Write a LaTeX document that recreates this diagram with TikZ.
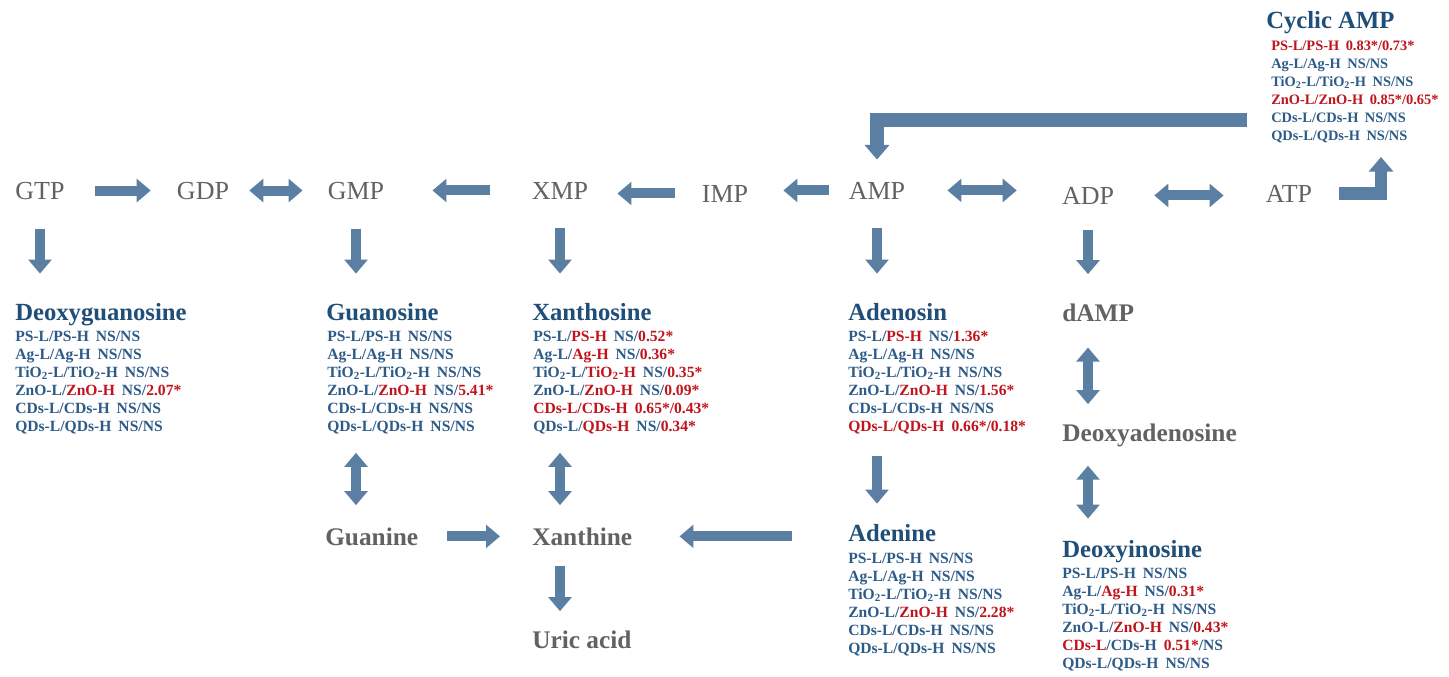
\documentclass[tikz,border=0pt]{standalone}
\usepackage{fontspec}
\setmainfont{Liberation Serif}
\usetikzlibrary{arrows.meta}
\definecolor{arrowc}{HTML}{5B7FA3}
\definecolor{lblgray}{HTML}{626262}
\definecolor{tblue}{HTML}{1F4E79}
\definecolor{dblue}{HTML}{2D5B88}
\definecolor{dred}{HTML}{C0141C}
\newcommand\hot[1]{\textcolor{dred}{#1}}
\newcommand\tio{TiO\textsubscript{2}}
\newcommand\gp{\hspace{0.45em}}
\tikzset{
  toplbl/.style={font=\fontsize{19.5}{22}\selectfont, text=lblgray, inner sep=0pt, anchor=base},
  graylbl/.style={font=\fontsize{19}{22}\selectfont\bfseries, text=lblgray, inner sep=0pt, anchor=base west},
  ttl/.style={font=\fontsize{18.5}{22}\selectfont\bfseries, text=tblue, inner sep=0pt, anchor=base west},
  dat/.style={font=\fontsize{11.7}{13.5}\selectfont\bfseries, text=dblue, inner sep=0pt, anchor=base west, align=left},
  smalldat/.style={dat, font=\fontsize{10.8}{13.5}\selectfont\bfseries},
  blk/.style={draw=arrowc, line width=7.5pt, -{Triangle[width=17pt,length=10.5pt]}},
  dblk/.style={draw=arrowc, line width=7.5pt, {Triangle[width=17pt,length=10.5pt]}-{Triangle[width=17pt,length=10.5pt]}},
  wblk/.style={draw=arrowc, line width=9.5pt, -{Triangle[width=18pt,length=11pt]}}
}
\begin{document}
\begin{tikzpicture}[x=0.75pt,y=-0.75pt]
\useasboundingbox (0,0) rectangle (1449,676);
\fill[white] (0,0) rectangle (1449,676);

% top row
\node[toplbl] (GTP) at (40,199) {GTP};
\node[toplbl] (GDP) at (203,199) {GDP};
\node[toplbl] (GMP) at (356,199) {GMP};
\node[toplbl] (XMP) at (560,199) {XMP};
\node[toplbl] (IMP) at (725,202) {IMP};
\node[toplbl] (AMP) at (877,199) {AMP};
\node[toplbl] (ADP) at (1088,204) {ADP};
\node[toplbl] (ATP) at (1289,202) {ATP};

% Cyclic AMP (data nodes: base = baseline of the last line)
\node[ttl] (cAMPt) at (1266,28) {Cyclic AMP};
\node[smalldat] (cAMPd) at (1271,140) {\hot{PS-L/PS-H\gp 0.83*/0.73*}\\
Ag-L/Ag-H\gp NS/NS\\
\tio-L/\tio-H\gp NS/NS\\
\hot{ZnO-L/ZnO-H\gp 0.85*/0.65*}\\
CDs-L/CDs-H\gp NS/NS\\
QDs-L/QDs-H\gp NS/NS};

% Deoxyguanosine
\node[ttl] (DGt) at (15,320) {Deoxyguanosine};
\node[dat] (DGd) at (15,431) {PS-L/PS-H\gp NS/NS\\
Ag-L/Ag-H\gp NS/NS\\
\tio-L/\tio-H\gp NS/NS\\
ZnO-L/\hot{ZnO-H}\gp NS/\hot{2.07*}\\
CDs-L/CDs-H\gp NS/NS\\
QDs-L/QDs-H\gp NS/NS};

% Guanosine
\node[ttl] (GSt) at (326,320) {Guanosine};
\node[dat] (GSd) at (327,431) {PS-L/PS-H\gp NS/NS\\
Ag-L/Ag-H\gp NS/NS\\
\tio-L/\tio-H\gp NS/NS\\
ZnO-L/\hot{ZnO-H}\gp NS/\hot{5.41*}\\
CDs-L/CDs-H\gp NS/NS\\
QDs-L/QDs-H\gp NS/NS};

% Xanthosine
\node[ttl] (XSt) at (532,320) {Xanthosine};
\node[dat] (XSd) at (533,431) {PS-L/\hot{PS-H}\gp NS/\hot{0.52*}\\
Ag-L/\hot{Ag-H}\gp NS/\hot{0.36*}\\
\tio-L/\hot{\tio-H}\gp NS/\hot{0.35*}\\
ZnO-L/\hot{ZnO-H}\gp NS/\hot{0.09*}\\
\hot{CDs-L/CDs-H\gp 0.65*/0.43*}\\
QDs-L/\hot{QDs-H}\gp NS/\hot{0.34*}};

% Adenosin
\node[ttl] (ASt) at (848,320) {Adenosin};
\node[dat] (ASd) at (848,431) {PS-L/\hot{PS-H}\gp NS/\hot{1.36*}\\
Ag-L/Ag-H\gp NS/NS\\
\tio-L/\tio-H\gp NS/NS\\
ZnO-L/\hot{ZnO-H}\gp NS/\hot{1.56*}\\
CDs-L/CDs-H\gp NS/NS\\
\hot{QDs-L/QDs-H\gp 0.66*/0.18*}};

% Adenine
\node[ttl] (ADt) at (848,541) {Adenine};
\node[dat] (ADd) at (848,653) {PS-L/PS-H\gp NS/NS\\
Ag-L/Ag-H\gp NS/NS\\
\tio-L/\tio-H\gp NS/NS\\
ZnO-L/\hot{ZnO-H}\gp NS/\hot{2.28*}\\
CDs-L/CDs-H\gp NS/NS\\
QDs-L/QDs-H\gp NS/NS};

% Deoxyinosine
\node[ttl] (DIt) at (1062,557) {Deoxyinosine};
\node[dat] (DId) at (1062,668) {PS-L/PS-H\gp NS/NS\\
Ag-L/\hot{Ag-H}\gp NS/\hot{0.31*}\\
\tio-L/\tio-H\gp NS/NS\\
ZnO-L/\hot{ZnO-H}\gp NS/\hot{0.43*}\\
\hot{CDs-L}/CDs-H\gp \hot{0.51*}/NS\\
QDs-L/QDs-H\gp NS/NS};

% gray bold labels
\node[graylbl] (dAMP) at (1062,321) {dAMP};
\node[graylbl] (DA) at (1062,441) {Deoxyadenosine};
\node[graylbl] (GUA) at (325,545) {Guanine};
\node[graylbl] (XAN) at (532,545) {Xanthine};
\node[graylbl] (URI) at (532,648) {Uric acid};

% free ends
\coordinate (atpup) at (1381,157);
\coordinate (cstart) at (1247,120);

% top row arrows
\draw[blk, shorten <=22.5pt, shorten >=19.5pt] (GTP.east) -- (GTP.east -| GDP.west);
\draw[dblk, shorten <=15pt, shorten >=18.75pt] (GDP.east) -- (GDP.east -| GMP.west);
\draw[blk, shorten <=31.5pt, shorten >=36pt] (XMP.west) -- (XMP.west -| GMP.east);
\draw[blk, shorten <=20.25pt, shorten >=21.75pt] (IMP.west) -- (IMP.west -| XMP.east);
\draw[blk, shorten <=15pt, shorten >=26.25pt] (AMP.west) -- (AMP.west -| IMP.east);
\draw[dblk, shorten <=31.5pt, shorten >=33.75pt] (AMP.east) -- (AMP.east -| ADP.west);
\draw[dblk, shorten <=30pt, shorten >=31.5pt] (ADP.east) -- (ADP.east -| ATP.west);
\draw[wblk, shorten <=20.25pt] (ATP.east) -| (atpup);
\draw[wblk, line width=10.5pt, shorten >=16.5pt] (cstart) -| (AMP.north);

% vertical arrows from top row
\draw[blk, shorten <=21.75pt, shorten >=21.75pt] (GTP.south) -- (GTP.south |- DGt.north);
\draw[blk, shorten <=21.75pt, shorten >=21.75pt] (GMP.south) -- (GMP.south |- GSt.north);
\draw[blk, shorten <=21.75pt, shorten >=21.75pt] (XMP.south) -- (XMP.south |- XSt.north);
\draw[blk, shorten <=21.75pt, shorten >=21.75pt] (AMP.south) -- (AMP.south |- ASt.north);
\draw[blk, shorten <=19.5pt, shorten >=21.75pt] (ADP.south) -- (ADP.south |- dAMP.north);

% lower arrows
\draw[dblk, shorten <=14.25pt, shorten >=16.5pt] (GMP |- GSd.south) -- (GMP |- GUA.north);
\draw[dblk, shorten <=14.25pt, shorten >=16.5pt] (XMP |- XSd.south) -- (XMP |- XAN.north);
\draw[blk, shorten <=16.5pt, shorten >=15pt] (AMP |- ASd.south) -- (AMP |- ADt.north);
\draw[dblk, shorten <=19.5pt, shorten >=14.25pt] (ADP |- dAMP.south) -- (ADP |- DA.north);
\draw[dblk, shorten <=14.25pt, shorten >=15.75pt] (ADP |- DA.south) -- (ADP |- DIt.north);
\draw[blk, shorten <=21.75pt, shorten >=24pt] (GUA.east) -- (GUA.east -| XAN.west);
\draw[blk, shorten <=42pt, shorten >=35.25pt] (XAN.east -| ADt.west) -- (XAN.east);
\draw[blk, shorten <=15pt, shorten >=14.25pt] (XMP |- XAN.south) -- (XMP |- URI.north);
\end{tikzpicture}
\end{document}
